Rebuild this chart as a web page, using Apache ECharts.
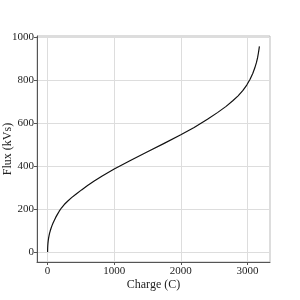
<!DOCTYPE html>
<html>
<head>
<meta charset="utf-8">
<script src="https://cdn.jsdelivr.net/npm/echarts@6/dist/echarts.min.js"></script>
<style>html,body{margin:0;padding:0;background:#fff}#c{width:300px;height:300px}</style>
</head>
<body>
<div id="c"></div>
<script>
var charge = [0, 1, 3, 6, 10, 15, 22, 30, 40, 52, 66, 82, 100, 120, 145, 175, 210, 250, 300, 360, 430, 510, 600, 700, 820, 1000, 1250, 1500, 1750, 2000, 2200, 2400, 2550, 2680, 2780, 2860, 2930, 2990, 3040, 3080, 3110, 3135, 3152, 3165, 3174, 3180];
var flux   = [0, 18, 31, 43, 54, 65, 77, 88, 99, 111, 123, 135, 147, 160, 174, 190, 206, 221, 236, 253, 270, 289, 309, 330, 354, 386, 427, 466, 505, 545, 579, 617, 648, 677, 703, 726, 750, 776, 803, 830, 855, 880, 902, 925, 943, 956];
var xTicks = [0, 1000, 2000, 3000];
var yTicks = [0, 200, 400, 600, 800, 1000];
var xTitle = 'Charge (C)';
var yTitle = 'Flux (kVs)';

var font = 'Liberation Serif, DejaVu Serif, serif';
var pts = charge.map(function(c, i){ return [c, flux[i]]; });
var chart = echarts.init(document.getElementById('c'), null, {renderer: 'canvas'});
chart.setOption({
  animation: false,
  grid: {left: 37, right: 30, top: 36, bottom: 38, show: true, borderColor: '#bbbbbb', borderWidth: 1, outerBoundsMode: 'none', containLabel: false},
  xAxis: {
    type: 'value', min: -159, max: 3339,
    name: xTitle, nameLocation: 'middle', nameGap: 17, nameMoveOverlap: false,
    nameTextStyle: {fontFamily: font, fontSize: 12, color: '#222'},
    axisLine: {show: true, onZero: false, lineStyle: {color: '#555', width: 1}},
    axisTick: {show: true, length: 3, lineStyle: {color: '#555'}, customValues: xTicks},
    axisLabel: {fontFamily: font, fontSize: 11, color: '#222', margin: 4, customValues: xTicks, formatter: function(v){ return String(v); }},
    splitLine: {show: true, lineStyle: {color: '#dddddd', width: 1}}
  },
  yAxis: {
    type: 'value', min: -46, max: 1004,
    name: yTitle, nameLocation: 'middle', nameGap: 23, nameRotate: 90, nameMoveOverlap: false,
    nameTextStyle: {fontFamily: font, fontSize: 12, color: '#222'},
    axisLine: {show: true, onZero: false, lineStyle: {color: '#555', width: 1}},
    axisTick: {show: true, length: 3, lineStyle: {color: '#555'}, customValues: yTicks},
    axisLabel: {fontFamily: font, fontSize: 11, color: '#222', margin: 3, customValues: yTicks, formatter: function(v){ return String(v); }},
    splitLine: {show: true, lineStyle: {color: '#dddddd', width: 1}}
  },
  series: [{
    type: 'line', data: pts, showSymbol: false, smooth: false,
    lineStyle: {color: '#111', width: 1.2, join: 'round'}
  }]
});
</script>
</body>
</html>
